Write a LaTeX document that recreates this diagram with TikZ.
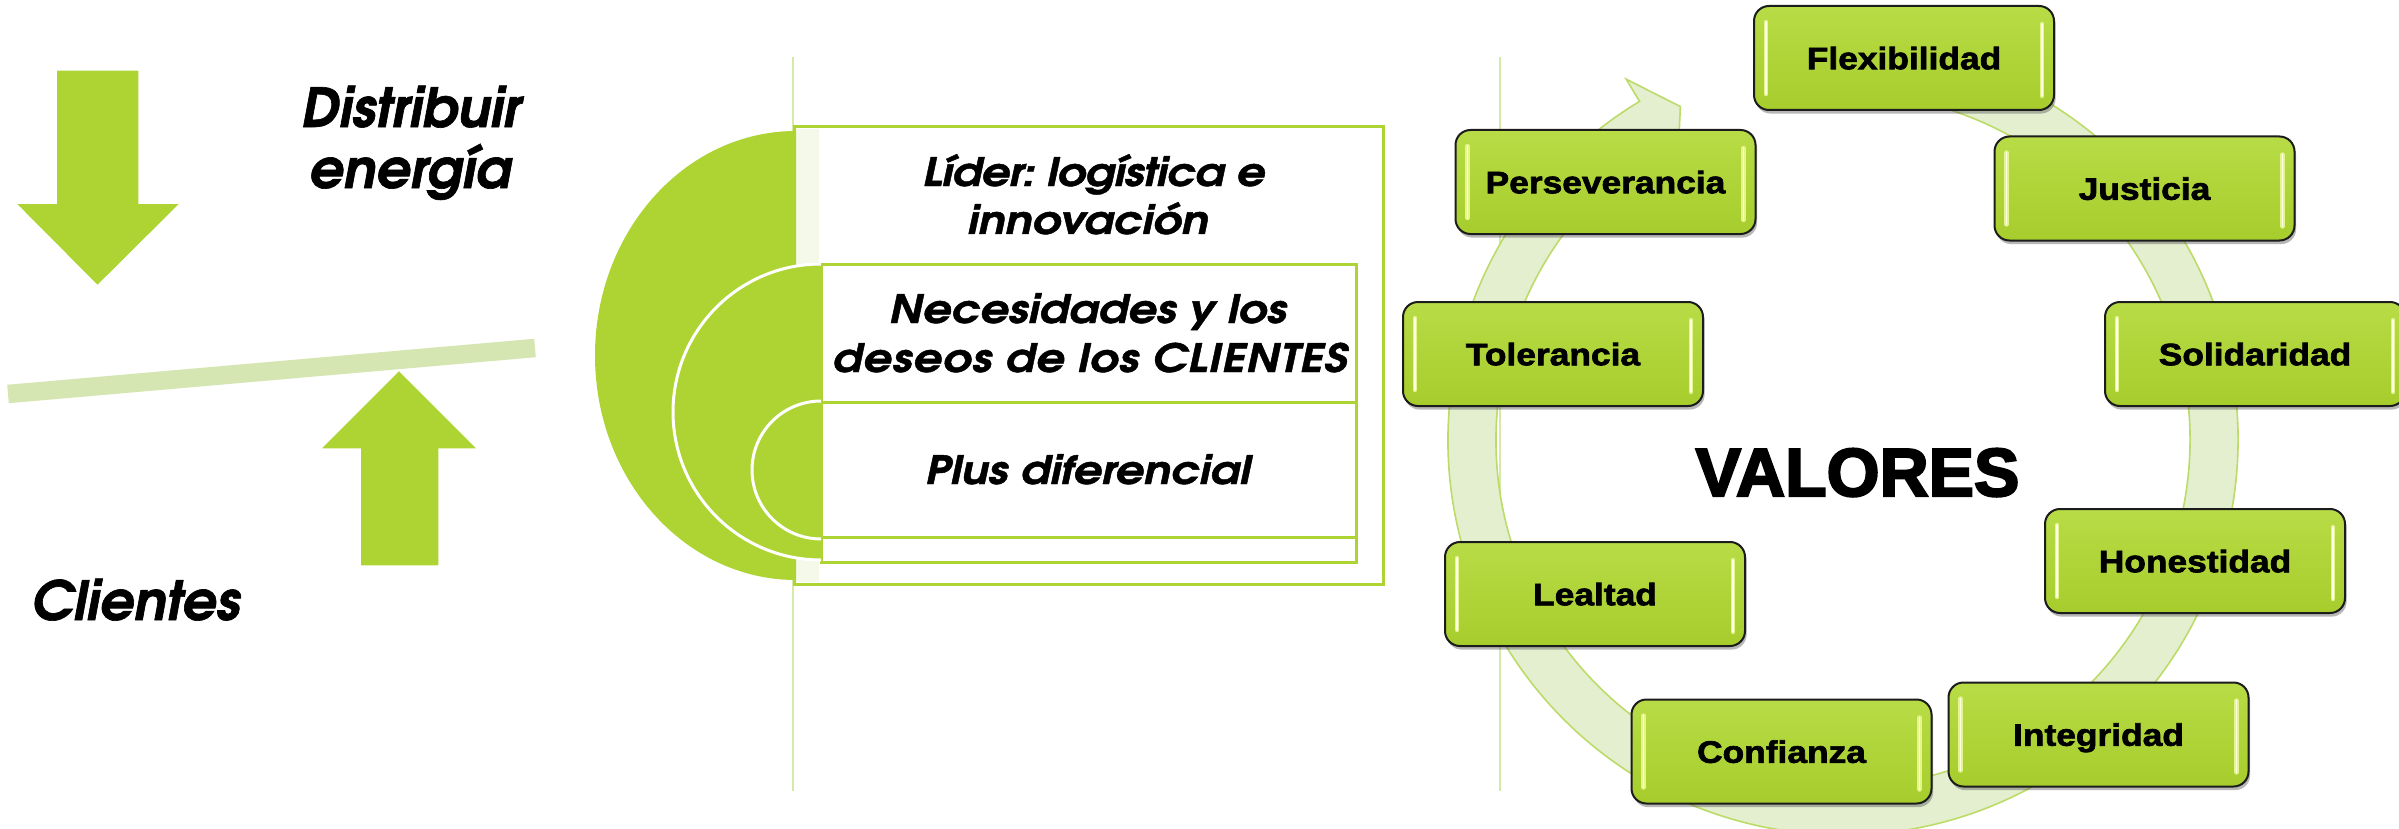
\documentclass[tikz,border=0pt]{standalone}
\usepackage{fontspec}
\usetikzlibrary{calc,shadows}
\newfontfamily\gothic{texgyreadventor}[Extension=.otf,UprightFont=*-regular,BoldFont=*-bold,ItalicFont=*-italic,BoldItalicFont=*-bolditalic,FakeBold=1.2]
\newfontfamily\gothicwide{texgyreadventor}[Extension=.otf,UprightFont=*-regular,BoldFont=*-bold,ItalicFont=*-italic,BoldItalicFont=*-bolditalic,FakeStretch=1.15,FakeBold=1.2]
\newfontfamily\boxfont{Liberation Sans}[FakeStretch=1.14,FakeBold=2.2]
\newfontfamily\valfont{Liberation Sans}[FakeBold=3.2]
\definecolor{lime}{RGB}{173,212,51}
\definecolor{barcol}{RGB}{213,230,178}
\definecolor{vlinecol}{RGB}{214,232,170}
\definecolor{stripcol}{RGB}{244,249,234}
\definecolor{bandfill}{RGB}{227,239,207}
\definecolor{bandline}{RGB}{188,219,104}
\definecolor{boxtop}{RGB}{184,220,70}
\definecolor{boxbot}{RGB}{166,205,44}
\definecolor{boxline}{RGB}{28,28,28}
\definecolor{hlout}{RGB}{228,245,140}
\definecolor{hlin}{RGB}{252,255,228}
\begin{document}
\begin{tikzpicture}[x=0.5pt,y=-0.5pt,
  bigtext/.style={font={\gothic\fontsize{27}{32}\selectfont\bfseries\itshape}, inner sep=0pt},
  midtext/.style={font={\gothicwide\fontsize{19.5}{24}\selectfont\bfseries\itshape\frenchspacing}, inner sep=0pt, anchor=base},
  vline/.style={vlinecol, line width=1pt},
  framebox/.style={draw=lime, line width=1.5pt},
  halfdisk/.style={fill=lime},
  whitearc/.style={draw=white, line width=1.5pt},
  hlo/.style={draw=hlout, line width=2.2pt, line cap=round},
  hli/.style={draw=hlin, line width=0.8pt, line cap=round},
  valbox/.style={draw=boxline, line width=1pt, rounded corners=7.5pt,
    minimum width=150pt, minimum height=52pt, inner sep=0pt,
    top color=boxtop, bottom color=boxbot,
    drop shadow={shadow xshift=0.8pt, shadow yshift=-1.8pt, opacity=0.4, fill=black!70},
    font={\boxfont\fontsize{15.5}{18}\selectfont\bfseries},
    text height=11.25pt, text depth=0pt,
    path picture={
      \draw[hlo] ($(path picture bounding box.north west)+(12,16)$) -- ($(path picture bounding box.south west)+(12,-16)$);
      \draw[hli] ($(path picture bounding box.north west)+(12,16)$) -- ($(path picture bounding box.south west)+(12,-16)$);
      \draw[hlo] ($(path picture bounding box.north east)+(-12,18)$) -- ($(path picture bounding box.south east)+(-12,-14)$);
      \draw[hli] ($(path picture bounding box.north east)+(-12,18)$) -- ($(path picture bounding box.south east)+(-12,-14)$);
    }},
  band/.style={fill=bandfill, draw=bandline, line width=0.8pt, line join=miter}
]
\useasboundingbox (0,0) rectangle (2399,829);
\fill[white] (0,0) rectangle (2399,829);

% ---------------- left part ----------------
\coordinate (barL) at (8,394);
\coordinate (barR) at (535,348);
\draw[barcol, line width=9.25pt] (barL) -- (barR);
\fill[lime, draw=white, line width=0.75pt] (56,70) -- (139,70) -- (139,203) -- (181,203) -- (97.5,286) -- (15,203) -- (56,203) -- cycle;
\fill[lime, draw=white, line width=0.75pt] (360,566) -- (439,566) -- (439,449) -- (478,449) -- (399,370) -- (320,449) -- (360,449) -- cycle;
\node[bigtext, anchor=base] (dist1) at (411,127) {Distribuir};
\node[bigtext, anchor=base] (dist2) at (410,188) {energía};
\node[bigtext, anchor=base west] (clientes) at (31,620) {Clientes};

% ---------------- middle part ----------------
\draw[vline] (793,57) -- (793,791);
\draw[framebox, fill=white] (794.5,127) rectangle (1383,584);
\fill[stripcol] (796,129) rectangle (819,582);
\fill[halfdisk] (796,131) arc[start angle=-90, end angle=-270, x radius=201, y radius=224.5] -- cycle;
\draw[framebox, fill=white] (821,264) rectangle (1356,562);
\fill[halfdisk] (821,264) arc[start angle=-90, end angle=-270, radius=148] -- cycle;
\draw[whitearc] (821,264) arc[start angle=-90, end angle=-270, radius=148];
\draw[framebox] (821,402) rectangle (1356,537);
\fill[halfdisk] (821,401) arc[start angle=-90, end angle=-270, radius=69] -- cycle;
\draw[whitearc] (821,401) arc[start angle=-90, end angle=-270, radius=69];
\node[midtext] (lider1) at (1094,186) {\addfontfeature{LetterSpace=-1.5}Líder: logística e};
\node[midtext] (lider2) at (1088,234) {innovación};
\node[midtext] (nec1) at (1088,323) {Necesidades y los};
\node[midtext] (nec2) at (1090,372) {\addfontfeature{LetterSpace=2.2}deseos de los CLIENTES};
\node[midtext] (plus) at (1088,484) {Plus diferencial};

% ---------------- right part ----------------
\draw[vline] (1500,57) -- (1500,791);
\coordinate (C) at (1843,440);
\draw[band] ($(C)+(-80:395)$) arc[start angle=-80, end angle=239, radius=395]
  -- ($(C)+(239:421)$) -- ($(C)+(244:371)$) -- ($(C)+(239:321)$) -- ($(C)+(239:347)$)
  arc[start angle=239, end angle=-80, radius=347] -- cycle;

\node[valbox] (flex) at (1904,58) {Flexibilidad};
\node[valbox] (just) at (2144.5,188.5) {Justicia};
\node[valbox] (soli) at (2255,354) {Solidaridad};
\node[valbox] (hone) at (2195,561) {Honestidad};
\node[valbox] (inte) at (2098.5,734.5) {Integridad};
\node[valbox] (conf) at (1781.5,751.5) {Confianza};
\node[valbox] (leal) at (1595,594) {Lealtad};
\node[valbox] (tole) at (1553,354) {Tolerancia};
\node[valbox] (pers) at (1605.5,182) {Perseverancia};

\node[font={\valfont\fontsize{34}{40}\selectfont\bfseries}, inner sep=0pt, anchor=base] (valores) at (1857.5,496) {VALORES};
\end{tikzpicture}
\end{document}
